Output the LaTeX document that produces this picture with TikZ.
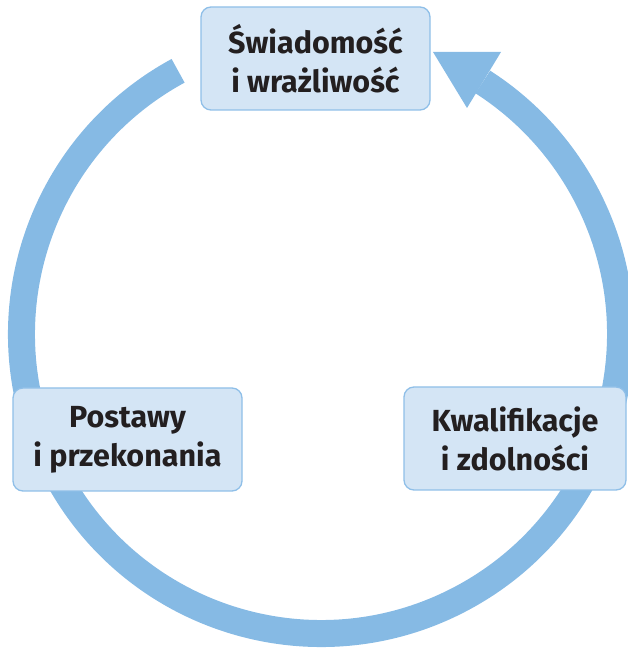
\documentclass[tikz,border=0pt]{standalone}
\usepackage{fontspec}
\setmainfont{Fira Sans}
\begin{document}
\begin{tikzpicture}[x=1pt,y=1pt,
  ringline/.style={draw=ringblue, line width=27pt, line cap=butt},
  tipfill/.style={fill=ringblue, draw=none},
  box/.style={draw=boxborder, line width=1.3pt, fill=boxfill, rounded corners=10pt,
    minimum width=229pt, minimum height=103pt, inner sep=0pt, align=center,
    text=textdark, font=\fontsize{30.5}{39}\selectfont\bfseries}]
\definecolor{ringblue}{HTML}{86BAE4}
\definecolor{boxfill}{HTML}{D4E5F5}
\definecolor{boxborder}{HTML}{8FBFE8}
\definecolor{textdark}{HTML}{231F20}
\useasboundingbox (0,0) rectangle (627,648);
\coordinate (c) at (321,314);
% ring
\draw[ringline] ([shift={(118.5:299.5)}]c) coordinate (rs)
  arc[start angle=118.5, end angle=417.3, radius=299.5] coordinate (re);
\coordinate (tip) at (433,596);
\coordinate (b1) at (501,596);
\coordinate (b2) at (467,540);
\fill[tipfill] (tip) -- (b1) -- (b2) -- cycle;
% boxes
\node[box] (top) at (315.5,589.5) {Świadomość\\i wrażliwość};
\node[box] (left) at (127.5,208.5) {Postawy\\i przekonania};
\node[box, minimum width=222pt] (right) at (515,209.5) {Kwalifikacje\\i zdolności};
\end{tikzpicture}
\end{document}
